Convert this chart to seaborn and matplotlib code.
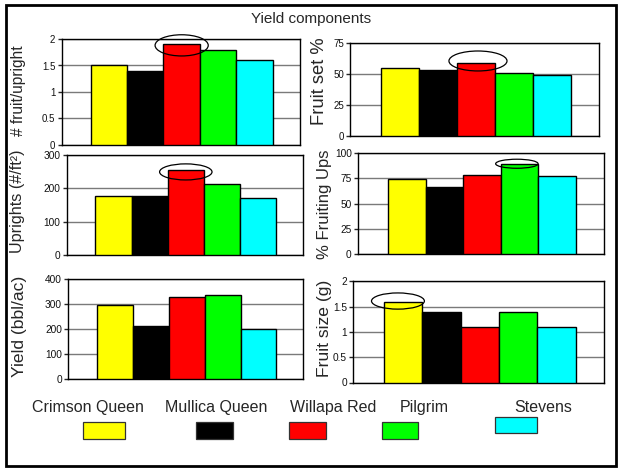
import numpy as np
import pandas as pd
import matplotlib
matplotlib.use("Agg")
import matplotlib.pyplot as plt
from matplotlib.patches import Ellipse, Rectangle
import seaborn as sns

# Cultivars and their display colours
cultivars = ["Crimson Queen", "Mullica Queen", "Willapa Red", "Pilgrim", "Stevens"]
colors = ["#FFFF00", "#000000", "#FF0000", "#00FF00", "#00FFFF"]

# Yield component values per cultivar
fruit_per_upright = [1.5, 1.4, 1.9, 1.8, 1.6]
fruit_set_pct = [55, 53, 59, 51, 49]
uprights_per_ft2 = [176, 175, 254, 213, 169]
pct_fruiting_ups = [74, 66, 78, 89, 77]
yield_bbl_ac = [293, 211, 328, 334, 197]
fruit_size_g = [1.6, 1.4, 1.1, 1.4, 1.1]

# Axis labels and y tick values
ylabels = ["# fruit/upright", "Fruit set %", "Uprights (#/ft\u00b2)",
           "% Fruiting Ups", "Yield (bbl/ac)", "Fruit size (g)"]
yticks = [
    [0, 0.5, 1, 1.5, 2],
    [0, 25, 50, 75],
    [0, 100, 200, 300],
    [0, 25, 50, 75, 100],
    [0, 100, 200, 300, 400],
    [0, 0.5, 1, 1.5, 2],
]
ytick_labels = [
    ["0", "0.5", "1", "1.5", "2"],
    ["0", "25", "50", "75"],
    ["0", "100", "200", "300"],
    ["0", "25", "50", "75", "100"],
    ["0", "100", "200", "300", "400"],
    ["0", "0.5", "1", "1.5", "2"],
]
series = [fruit_per_upright, fruit_set_pct, uprights_per_ft2,
          pct_fruiting_ups, yield_bbl_ac, fruit_size_g]

sns.set_style("white")
plt.rcParams["font.family"] = ["Liberation Sans", "DejaVu Sans"]

W, H = 621, 469
fig = plt.figure(figsize=(W / 100, H / 100), dpi=100)
fig.patch.set_facecolor("white")


def add_px_axes(left, top, right, bottom):
    return fig.add_axes([left / W, 1 - bottom / H, (right - left) / W, (bottom - top) / H])


# Panel layout (pixel boxes), y-label placement and font sizes
boxes = [
    (61.5, 39, 300, 145),
    (350.5, 43, 599, 136),
    (66.5, 154.5, 303.3, 255),
    (358, 153.3, 604, 253.7),
    (68.3, 278.7, 303.3, 378.7),
    (353.3, 281.3, 604.3, 382.5),
]
label_pos = [(18.5, 91), (319.5, 81.5), (17.5, 201.5), (324, 204), (20, 326.5), (325, 328.3)]
label_size = [11.2, 13.2, 11.6, 12, 12.6, 12.6]
tick_size = [7, 7, 7.3, 7.3, 7.3, 7.3]

# Highlight ellipses: (panel, bar index, x offset, y offset, width, height)
highlights = [
    (0, 2, 0.0, -0.02, 1.46, 0.40),
    (1, 2, 0.06, 1.5, 1.53, 16.1),
    (2, 2, 0.0, -6, 1.45, 48),
    (3, 3, -0.07, 0.6, 1.13, 9.0),
    (5, 0, -0.135, 0.01, 1.38, 0.32),
]

axes = []
for i, (box, vals) in enumerate(zip(boxes, series)):
    ax = add_px_axes(*box)
    df = pd.DataFrame({"cultivar": cultivars, "value": vals})
    sns.barplot(data=df, x="cultivar", y="value", hue="cultivar",
                palette=colors, saturation=1, width=1.0, legend=False,
                edgecolor="black", linewidth=1.0, ax=ax, zorder=3)
    ax.set_xlim(-1.3, 5.25)
    ax.set_ylim(yticks[i][0], yticks[i][-1])
    ax.set_yticks(yticks[i])
    ax.set_yticklabels(ytick_labels[i], fontsize=tick_size[i], color="#111111")
    ax.set_xticks([])
    ax.set_xlabel("")
    ax.set_ylabel(ylabels[i], fontsize=label_size[i])
    ax.yaxis.label.set_va("center")
    lx, ly = label_pos[i]
    l, t, r, b = box
    ax.yaxis.set_label_coords((lx - l) / (r - l), (b - ly) / (b - t))
    ax.tick_params(axis="y", direction="out", length=3, width=1, pad=1.5, left=True)
    ax.yaxis.grid(True, color="#7a7a7a", linewidth=1.0)
    ax.set_axisbelow(True)
    for sp in ax.spines.values():
        sp.set_color("black")
        sp.set_linewidth(1.0)
        sp.set_visible(True)
    ax.set_facecolor("white")
    axes.append(ax)

for panel, idx, dx, dy, w, h in highlights:
    ax = axes[panel]
    ax.add_patch(Ellipse((idx + dx, series[panel][idx] + dy), w, h,
                         fill=False, edgecolor="black", linewidth=0.9,
                         zorder=5, clip_on=False))

# Title
fig.text(311 / W, 1 - 18.5 / H, "Yield components", ha="center", va="center", fontsize=11)

# Legend: cultivar names over colour swatches
name_x = [87.5, 216.5, 333.5, 424, 543]
swatches = [(82.7, 422.3, 124.7, 438.7), (195.7, 422.3, 232.7, 438.7),
            (288.7, 422.3, 325.7, 438.7), (382, 422.3, 418.3, 438.7),
            (495.3, 417.3, 537.3, 433.3)]
for name, col, x, (sl, st, sr, sb) in zip(cultivars, colors, name_x, swatches):
    fig.text(x / W, 1 - 407 / H, name, ha="center", va="center", fontsize=11.5)
    fig.patches.append(Rectangle((sl / W, 1 - sb / H), (sr - sl) / W, (sb - st) / H,
                                 transform=fig.transFigure, facecolor=col,
                                 edgecolor="#333333", linewidth=0.9))

# Chart border
fig.patches.append(Rectangle((5.5 / W, 1 - 465.5 / H), (616 - 5.5) / W, (465.5 - 5.5) / H,
                             transform=fig.transFigure, fill=False,
                             edgecolor="black", linewidth=2.0))

fig.savefig("out.png", dpi=100)
